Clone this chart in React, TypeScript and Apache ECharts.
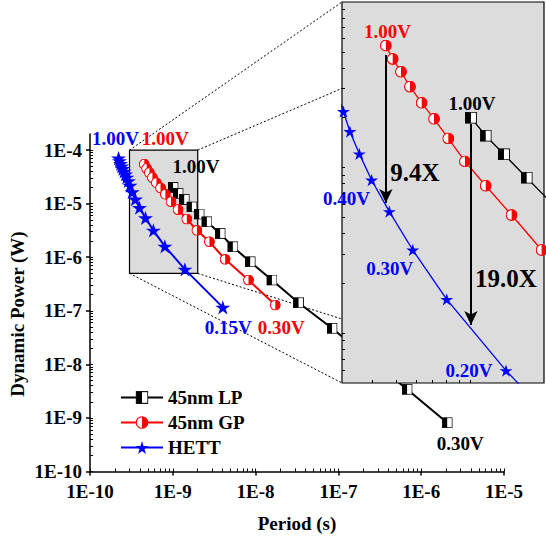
import React, { useEffect, useRef } from 'react';
import * as echarts from 'echarts';

// ---------------- data ----------------
const seriesNames = ['45nm LP', '45nm GP', 'HETT'];

const lpVoltages = ['1.00V', '0.95V', '0.90V', '0.85V', '0.80V', '0.75V', '0.70V', '0.65V', '0.60V', '0.55V', '0.50V', '0.45V', '0.40V', '0.35V', '0.30V'];
const lpPeriod = [1.007e-9, 1.157e-9, 1.373e-9, 1.70e-9, 2.08e-9, 2.577e-9, 3.73e-9, 5.31e-9, 8.6e-9, 1.574e-8, 3.3e-8, 8.37e-8, 2.3e-7, 6.75e-7, 2.06e-6];
const lpPower = [2.0e-5, 1.558e-5, 1.203e-5, 8.69e-6, 6.4e-6, 4.59e-6, 2.79e-6, 1.57e-6, 8.23e-7, 3.75e-7, 1.414e-7, 4.71e-8, 1.31e-8, 3.42e-9, 8.14e-10];

const gpVoltages = ['1.00V', '0.95V', '0.90V', '0.85V', '0.80V', '0.75V', '0.70V', '0.65V', '0.60V', '0.55V', '0.50V', '0.45V', '0.40V', '0.35V', '0.30V'];
const gpPeriod = [4.53e-10, 4.83e-10, 5.22e-10, 5.68e-10, 6.34e-10, 7.12e-10, 8.14e-10, 9.52e-10, 1.157e-9, 1.476e-9, 1.956e-9, 2.77e-9, 4.29e-9, 8.21e-9, 1.73e-8];
const gpPower = [5.45e-5, 4.53e-5, 3.79e-5, 3.08e-5, 2.46e-5, 1.97e-5, 1.5e-5, 1.09e-5, 7.77e-6, 5.17e-6, 3.18e-6, 1.95e-6, 9.13e-7, 3.75e-7, 1.28e-7];

const hettVoltages = ['1.00V', '0.95V', '0.90V', '0.85V', '0.80V', '0.75V', '0.70V', '0.65V', '0.60V', '0.55V', '0.50V', '0.45V', '0.40V', '0.35V', '0.30V', '0.25V', '0.20V', '0.15V'];
const hettPeriod = [2.21e-10, 2.27e-10, 2.34e-10, 2.41e-10, 2.49e-10, 2.58e-10, 2.68e-10, 2.78e-10, 2.9e-10, 3.04e-10, 3.23e-10, 3.53e-10, 3.96e-10, 4.68e-10, 5.83e-10, 8.02e-10, 1.4e-9, 4.02e-9];
const hettPower = [7.1e-5, 6.3e-5, 5.6e-5, 5.0e-5, 4.5e-5, 4.0e-5, 3.55e-5, 3.1e-5, 2.65e-5, 2.18e-5, 1.65e-5, 1.21e-5, 8.41e-6, 5.42e-6, 3.18e-6, 1.6e-6, 5.94e-7, 1.16e-7];

// axis ranges (decade exponents)
const xMajorExponents = [-10, -9, -8, -7, -6, -5];
const yMajorExponents = [-10, -9, -8, -7, -6, -5, -4];
const xRange = [1e-10, 1e-5];
const yRange = [1e-10, 2e-4];

// zoomed window shown in the inset
const zoomPeriod = [3e-10, 2e-9];
const zoomPower = [5e-7, 1e-4];

// ratio annotations (arrow: period, from power, to power) and texts
const ratioTexts = ['9.4X', '19.0X'];
const arrowPeriods = [gpPeriod[0], lpPeriod[0]];
const arrowFromPower = [4.79e-5, 1.83e-5];
const arrowToPower = [6.11e-6, 1.12e-6];
const ratioTextPeriod = [5.95e-10, 1.4e-9];
const ratioTextPower = [9.34e-6, 2.15e-6];

// ---------------- styling helpers ----------------
const FONT = '"Liberation Serif", "Times New Roman", serif';
const L = Math.log10;
const BLACK = '#000000';
const RED = '#ff0000';
const BLUE = '#0000ff';
const GRAY = '#dcdcdc';

const squareSvg =
  '<svg xmlns="http://www.w3.org/2000/svg" width="24" height="24" viewBox="0 0 24 24">' +
  '<rect x="1" y="1" width="22" height="22" fill="#fff" stroke="#000" stroke-width="2"/>' +
  '<rect x="1" y="1" width="11" height="22" fill="#000"/></svg>';
const circleSvg =
  '<svg xmlns="http://www.w3.org/2000/svg" width="24" height="24" viewBox="0 0 24 24">' +
  '<circle cx="12" cy="12" r="10.8" fill="#fff" stroke="#ff0000" stroke-width="2.2"/>' +
  '<path d="M12,1.2 A10.8,10.8 0 0 1 12,22.8 Z" fill="#ff0000"/></svg>';
const squareSymbol = 'image://data:image/svg+xml;charset=utf-8,' + encodeURIComponent(squareSvg);
const circleSymbol = 'image://data:image/svg+xml;charset=utf-8,' + encodeURIComponent(circleSvg);
const starSymbol =
  'path://M50,2 L61.2,36.3 L97.6,36.3 L68.2,57.7 L79.4,92 L50,70.8 L20.6,92 L31.8,57.7 L2.4,36.3 L38.8,36.3 Z';

const mainLabelSpecs: Record<string, { index: number; offset: number[] }[]> = {
  lp: [{ index: 0, offset: [23, -21] }, { index: 14, offset: [13, 21] }],
  gp: [{ index: 0, offset: [21, -26] }, { index: 14, offset: [6, 22] }],
  hett: [{ index: 0, offset: [-3, -20] }, { index: 17, offset: [5.5, 20] }],
};
const insetLabelSpecs: Record<string, { index: number; offset: number[] }[]> = {
  lp: [{ index: 0, offset: [1, -14] }],
  gp: [{ index: 0, offset: [1.5, -14] }],
  hett: [
    { index: 12, offset: [-25, 18.5] },
    { index: 14, offset: [-23, 18.5] },
    { index: 16, offset: [-37, 0] },
  ],
};

function buildData(
  xs: number[],
  ys: number[],
  volts: string[],
  specs: { index: number; offset: number[] }[],
  color: string
) {
  return xs.map((x, i) => {
    const spec = specs.find((s) => s.index === i);
    const item: any = { value: [L(x), L(ys[i])] };
    if (spec) {
      item.label = {
        show: true,
        formatter: volts[i],
        position: 'inside',
        offset: spec.offset,
        color,
        fontFamily: FONT,
        fontWeight: 'bold',
        fontSize: 19,
        textBorderWidth: 0,
      };
    }
    return item;
  });
}

function minorTicks(exps: number[], maxVal: number) {
  const out: number[] = [];
  exps.forEach((e) => {
    for (let k = 2; k <= 9; k++) {
      const v = e + L(k);
      if (v < maxVal - 1e-9) out.push(v);
    }
  });
  return out;
}

function rangeTicks(lo: number, hi: number) {
  const out: number[] = [];
  for (let e = Math.floor(L(lo)); e <= Math.ceil(L(hi)); e++) {
    for (let k = 1; k <= 9; k++) {
      const v = e + L(k);
      if (v > L(lo) + 1e-9 && v < L(hi) - 1e-9) out.push(v);
    }
  }
  return out;
}

export default function App() {
  const ref = useRef<HTMLDivElement>(null);

  useEffect(() => {
    if (!ref.current) return;
    const chart = echarts.init(ref.current, undefined, { renderer: 'svg' });

    const xMin = L(xRange[0]);
    const xMax = L(xRange[1]);
    const yMin = L(yRange[0]);
    const yMax = L(yRange[1]);
    const xMinor = minorTicks(xMajorExponents.slice(0, -1), xMax);
    const yMinor = minorTicks(yMajorExponents, yMax);
    const fmt = (v: number) => '1E' + Math.round(v);

    const labelText = { fontFamily: FONT, fontWeight: 'bold' as const, fontSize: 19, color: '#000' };

    const mainLine = (name: string, xs: number[], ys: number[], volts: string[], key: string, color: string, symbol: string, size: number) => ({
      name,
      type: 'line',
      xAxisIndex: 0,
      yAxisIndex: 0,
      z: 2,
      data: buildData(xs, ys, volts, mainLabelSpecs[key], color),
      symbol,
      symbolSize: size,
      showAllSymbol: true,
      symbolKeepAspect: true,
      lineStyle: { color, width: 2 },
      itemStyle: { color },
      clip: true,
    });
    const insetLine = (name: string, xs: number[], ys: number[], volts: string[], key: string, color: string, symbol: string, size: number) => ({
      name,
      type: 'line',
      xAxisIndex: 2,
      yAxisIndex: 2,
      z: 11,
      data: buildData(xs, ys, volts, insetLabelSpecs[key], color),
      symbol,
      symbolSize: size,
      showAllSymbol: true,
      symbolKeepAspect: true,
      lineStyle: { color, width: 1.3 },
      itemStyle: { color },
      clip: true,
    });

    const insetLP: any = insetLine(seriesNames[0], lpPeriod, lpPower, lpVoltages, 'lp', BLACK, squareSymbol, 12);
    insetLP.markLine = {
      silent: true,
      z: 13,
      symbol: ['none', 'arrow'],
      symbolSize: [10, 14],
      lineStyle: { color: BLACK, width: 2, type: 'solid' },
      label: { show: false },
      data: arrowPeriods.map((p, i) => [
        { coord: [L(p), L(arrowFromPower[i])] },
        { coord: [L(p), L(arrowToPower[i])] },
      ]),
    };
    insetLP.markPoint = {
      silent: true,
      z: 13,
      symbol: 'circle',
      symbolSize: 1,
      itemStyle: { color: 'rgba(0,0,0,0)' },
      label: { show: true, position: 'inside', formatter: '{b}', ...labelText, fontSize: 25 },
      data: ratioTexts.map((t, i) => ({ name: t, coord: [L(ratioTextPeriod[i]), L(ratioTextPower[i])] })),
    };

    const option: any = {
      animation: false,
      backgroundColor: '#ffffff',
      grid: [
        { left: 90, top: 134, width: 414, height: 337.5, outerBoundsMode: 'none' },
        { left: 342, top: 2, width: 202, height: 381, outerBoundsMode: 'none' },
      ],
      legend: {
        data: seriesNames,
        orient: 'vertical',
        left: 115,
        top: 383,
        itemWidth: 42,
        itemHeight: 16,
        itemGap: 6,
        textStyle: labelText,
      },
      xAxis: [
        {
          gridIndex: 0, type: 'value', min: xMin, max: xMax, position: 'bottom',
          axisLine: { lineStyle: { color: BLACK, width: 1.5 } },
          axisTick: { inside: false, length: 4, customValues: xMajorExponents, lineStyle: { color: BLACK, width: 1.5 } },
          axisLabel: { customValues: xMajorExponents, formatter: fmt, margin: 10, ...labelText },
          splitLine: { show: false },
        },
        {
          gridIndex: 0, type: 'value', min: xMin, max: xMax, position: 'bottom',
          axisLine: { show: false },
          axisTick: { inside: true, length: 3, customValues: [...xMajorExponents, ...xMinor], lineStyle: { color: BLACK, width: 1 } },
          axisLabel: { show: false },
          splitLine: { show: false },
        },
        {
          gridIndex: 1, type: 'value', min: L(zoomPeriod[0]), max: L(zoomPeriod[1]), position: 'bottom', z: 12,
          axisLine: { show: false },
          axisTick: { inside: true, length: 3, customValues: rangeTicks(zoomPeriod[0], zoomPeriod[1]), lineStyle: { color: BLACK, width: 1 } },
          axisLabel: { show: false },
          splitLine: { show: false },
        },
      ],
      yAxis: [
        {
          gridIndex: 0, type: 'value', min: yMin, max: yMax, position: 'left',
          axisLine: { lineStyle: { color: BLACK, width: 1.5 } },
          axisTick: { inside: false, length: 4, customValues: yMajorExponents, lineStyle: { color: BLACK, width: 1.5 } },
          axisLabel: { customValues: yMajorExponents, formatter: fmt, margin: 8, ...labelText },
          splitLine: { show: false },
        },
        {
          gridIndex: 0, type: 'value', min: yMin, max: yMax, position: 'left',
          axisLine: { show: false },
          axisTick: { inside: true, length: 3, customValues: [...yMajorExponents, ...yMinor], lineStyle: { color: BLACK, width: 1 } },
          axisLabel: { show: false },
          splitLine: { show: false },
        },
        {
          gridIndex: 1, type: 'value', min: L(zoomPower[0]), max: L(zoomPower[1]), position: 'left', z: 12,
          axisLine: { show: false },
          axisTick: { inside: true, length: 3, customValues: rangeTicks(zoomPower[0], zoomPower[1]), lineStyle: { color: BLACK, width: 1 } },
          axisLabel: { show: false },
          splitLine: { show: false },
        },
      ],
      series: [
        {
          name: 'zoom-window',
          type: 'line',
          xAxisIndex: 0,
          yAxisIndex: 0,
          z: 1,
          showSymbol: false,
          lineStyle: { width: 0, opacity: 0 },
          data: [[L(zoomPeriod[0]), L(zoomPower[0])], [L(zoomPeriod[1]), L(zoomPower[1])]],
          markArea: {
            silent: true,
            itemStyle: { color: GRAY, borderColor: BLACK, borderWidth: 1.2 },
            data: [[{ coord: [L(zoomPeriod[0]), L(zoomPower[1])] }, { coord: [L(zoomPeriod[1]), L(zoomPower[0])] }]],
          },
        },
        mainLine(seriesNames[0], lpPeriod, lpPower, lpVoltages, 'lp', BLACK, squareSymbol, 11),
        mainLine(seriesNames[1], gpPeriod, gpPower, gpVoltages, 'gp', RED, circleSymbol, 11),
        mainLine(seriesNames[2], hettPeriod, hettPower, hettVoltages, 'hett', BLUE, starSymbol, 15),
        insetLP,
        insetLine(seriesNames[1], gpPeriod, gpPower, gpVoltages, 'gp', RED, circleSymbol, 12),
        insetLine(seriesNames[2], hettPeriod, hettPower, hettVoltages, 'hett', BLUE, starSymbol, 13),
      ],
    };

    chart.setOption(option);

    // connect the zoom window to the inset (pixel positions from the axes)
    const p0 = (x: number, y: number) => chart.convertToPixel({ gridIndex: 0 }, [x, y]) as number[];
    const p1 = (x: number, y: number) => chart.convertToPixel({ gridIndex: 1 }, [x, y]) as number[];
    const zx0 = L(zoomPeriod[0]), zx1 = L(zoomPeriod[1]), zy0 = L(zoomPower[0]), zy1 = L(zoomPower[1]);
    const winTL = p0(zx0, zy1), winTR = p0(zx1, zy1), winBL = p0(zx0, zy0), winBR = p0(zx1, zy0);
    const insTL = p1(zx0, zy1), insTR = p1(zx1, zy1), insBL = p1(zx0, zy0), insBR = p1(zx1, zy0);
    const dashed = (a: number[], b: number[]) => ({
      type: 'line',
      z: 1,
      silent: true,
      shape: { x1: a[0], y1: a[1], x2: b[0], y2: b[1] },
      style: { stroke: BLACK, lineWidth: 1, lineDash: [2, 2] },
    });
    chart.setOption({
      graphic: [
        dashed(winTL, insTL),
        dashed(winTR, insTR),
        dashed(winBL, insBL),
        dashed(winBR, insBR),
        {
          type: 'rect',
          z: 10,
          silent: true,
          shape: { x: insTL[0], y: insTL[1], width: insBR[0] - insTL[0], height: insBR[1] - insTL[1] },
          style: { fill: GRAY, stroke: BLACK, lineWidth: 1.2 },
        },
        {
          type: 'text',
          z: 5,
          silent: true,
          x: 297,
          y: 523,
          style: { text: 'Period (s)', font: 'bold 19px ' + FONT, fill: BLACK, align: 'center', verticalAlign: 'middle' },
        },
        {
          type: 'text',
          z: 5,
          silent: true,
          x: 17,
          y: 314,
          rotation: Math.PI / 2,
          style: { text: 'Dynamic Power (W)', font: 'bold 19px ' + FONT, fill: BLACK, align: 'center', verticalAlign: 'middle' },
        },
      ],
    });

    return () => chart.dispose();
  }, []);

  return (
    <div
      ref={ref}
      style={{ position: 'fixed', left: 0, top: 0, width: 546, height: 538, background: '#fff' }}
    />
  );
}
